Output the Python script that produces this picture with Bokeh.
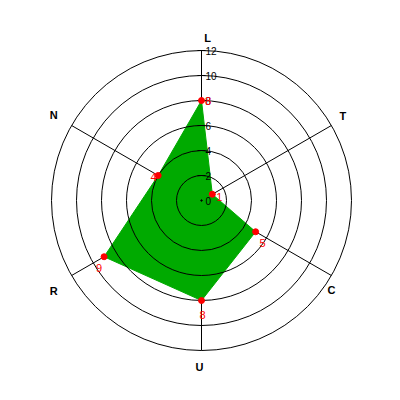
import math
from bokeh.plotting import figure
from bokeh.models import Range1d, ColumnDataSource
from bokeh.core.properties import value
from bokeh.embed import file_html
from bokeh.resources import INLINE

# ---- data ----
categories = ["L", "T", "C", "U", "R", "N"]
values = [8, 1, 5, 8, 9, 4]
ticks = [0, 2, 4, 6, 8, 10, 12]
tick_labels = ["0", "2", "4", "6", "8", "10", "12"]
rmax = 12

# ---- style ----
green = "#00aa00"
font = value("Liberation Sans")
val_dx = [6.5, 7, 7, 1, -5, -4.7]
val_dy = [0, 3, 11, 14, 11, 1]
lab_dx = [6, -1.5, -13, -2, -5, -5]
lab_dy = [2, -2.5, 6.5, 1, 7.5, -3]
lab_r = 13.2

PX = 12.5  # pixels per unit
cx, cy = 201, 200
W = H = 384
p = figure(width=W, height=H, output_backend="svg", toolbar_location=None,
           x_range=Range1d(-cx / PX, (W - cx) / PX),
           y_range=Range1d(-(H - cy) / PX, cy / PX),
           min_border=0)
p.axis.visible = False
p.grid.visible = False
p.outline_line_color = None
p.background_fill_color = "white"

n = len(categories)
angles = [math.radians(90 - 360 / n * i) for i in range(n)]

# spokes (under the fill)
p.segment(x0=[0] * n, y0=[0] * n,
          x1=[rmax * math.cos(a) for a in angles],
          y1=[rmax * math.sin(a) for a in angles],
          line_color="black", line_width=1)

# filled polygon
px = [v * math.cos(a) for v, a in zip(values, angles)]
py = [v * math.sin(a) for v, a in zip(values, angles)]
p.patch(px, py, fill_color=green, line_color=green, line_width=1)

# circles
rings = [t for t in ticks if t > 0]
p.circle(x=[0] * len(rings), y=[0] * len(rings), radius=rings,
         fill_color=None, line_color="black", line_width=1)

# ticks on L axis
tw = 4 / PX
p.segment(x0=[-tw] * len(rings), y0=rings, x1=[tw] * len(rings), y1=rings,
          line_color="black", line_width=1)
p.text(x=[0] * len(ticks), y=ticks, text=tick_labels, x_offset=4,
       text_font=font, text_font_size="10px", text_color="black",
       text_align="left", text_baseline="middle")

# center dot
p.scatter(x=[0], y=[0], size=1.5, color="black")

# markers
p.scatter(px, py, size=6, fill_color="red", line_color="red")

# value labels
src = ColumnDataSource(dict(x=px, y=py, t=[str(v) for v in values],
                            dx=val_dx, dy=val_dy))
p.text(x="x", y="y", text="t", x_offset="dx", y_offset="dy", source=src,
       text_font=font, text_font_size="11px", text_color="red",
       text_align="center", text_baseline="middle")

# axis labels
lsrc = ColumnDataSource(dict(x=[lab_r * math.cos(a) for a in angles],
                             y=[lab_r * math.sin(a) for a in angles],
                             t=categories, dx=lab_dx, dy=lab_dy))
p.text(x="x", y="y", text="t", x_offset="dx", y_offset="dy", source=lsrc,
       text_font=font, text_font_size="11px", text_font_style="bold",
       text_color="black", text_align="center", text_baseline="middle")

open("out.html", "w").write(file_html(p, INLINE))
